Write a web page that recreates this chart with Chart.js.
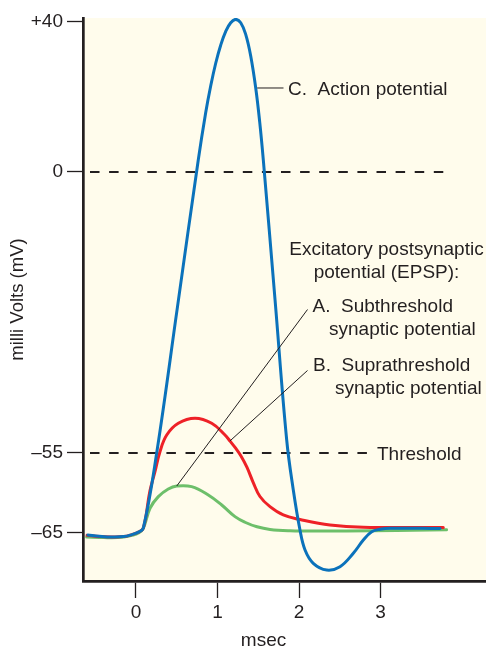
<!DOCTYPE html>
<html>
<head>
<meta charset="utf-8">
<title>Postsynaptic potentials and the action potential</title>
<script src="https://cdn.jsdelivr.net/npm/chart.js@4/dist/chart.umd.min.js"></script>
<style>
  html, body { margin: 0; padding: 0; background: #ffffff; }
  canvas { display: block; }
</style>
</head>
<body>
<canvas id="chart" width="486" height="646"></canvas>
<script>
// ---- traces: time (msec) and membrane potential (mV) ----
// C. action potential
const actionT  = [-0.59, -0.45, -0.3, -0.15, -0.05, 0.03, 0.09, 0.254, 0.509, 0.764, 0.855, 0.917, 0.978, 1.039, 1.101, 1.162, 1.223, 1.285, 1.346, 1.407, 1.469, 1.518, 1.562, 1.706, 1.849, 1.93, 2.012, 2.074, 2.175, 2.34, 2.503, 2.666, 2.789, 2.892, 2.994, 3.117, 3.73];
const actionMv = [-65.25, -65.4, -65.5, -65.45, -65.2, -64.9, -64.4, -55, -26.4, 3.2, 15.8, 23.0, 29.0, 33.8, 37.5, 39.8, 40.7, 39.8, 36.7, 31.0, 22.4, 13.3, 3.2, -25.05, -52.46, -59.63, -64.63, -67.13, -68.79, -69.63, -69.21, -67.54, -65.88, -64.84, -64.54, -64.41, -64.45];

// B. suprathreshold synaptic potential
const supraT  = [-0.6, -0.45, -0.3, -0.15, -0.05, 0.03, 0.09, 0.17, 0.233, 0.294, 0.377, 0.519, 0.724, 0.929, 1.092, 1.153, 1.215, 1.288, 1.362, 1.436, 1.521, 1.644, 1.807, 2.012, 2.38, 2.79, 3.77];
const supraMv = [-65.3, -65.45, -65.5, -65.45, -65.2, -64.9, -64.4, -59.8, -57.34, -54.75, -51.48, -49.19, -48.2, -49.19, -51.48, -52.65, -53.92, -55.38, -56.81, -58.63, -60.44, -61.71, -62.75, -63.31, -64.0, -64.29, -64.3];

// A. subthreshold synaptic potential
const subT  = [-0.605, -0.45, -0.3, -0.15, -0.05, 0.03, 0.09, 0.172, 0.274, 0.396, 0.5, 0.683, 0.887, 1.052, 1.215, 1.337, 1.485, 1.644, 1.89, 2.135, 2.58, 3.81];
const subMv = [-65.5, -65.55, -65.6, -65.5, -65.3, -65.0, -64.41, -61.91, -60.46, -59.5, -59.13, -59.21, -60.25, -61.5, -62.96, -63.66, -64.23, -64.56, -64.73, -64.75, -64.75, -64.6];

// reference levels
const zeroLineT = [-0.564, 3.77];
const zeroLineMv = [0, 0];
const thresholdT = [-0.564, 2.86];
const thresholdMv = [-55, -55];

// axes
const xTicks = [0, 1, 2, 3];
const yTicks = [-65, -55, 0, 40];
const yTickLabels = ['\u201365', '\u201355', '0', '+40'];

const INK = '#231f20';
const FONT = '"Liberation Sans", Arial, Helvetica, sans-serif';

function pts(ts, vs) { return ts.map((t, i) => ({ x: t, y: vs[i] })); }

// ---- a millivolt axis that is stretched piecewise near rest / threshold ----
// knots: [value in mV, fraction of the axis height from the bottom]
const MV_KNOTS = [[-71, 0], [-65, 0.0853], [-55, 0.2274], [0, 0.7265], [40, 0.9929], [41.07, 1]];
function mvToDecimal(v) {
  let i = 1;
  while (i < MV_KNOTS.length - 1 && v > MV_KNOTS[i][0]) i++;
  const [v0, d0] = MV_KNOTS[i - 1], [v1, d1] = MV_KNOTS[i];
  return d0 + (v - v0) * (d1 - d0) / (v1 - v0);
}
function decimalToMv(d) {
  let i = 1;
  while (i < MV_KNOTS.length - 1 && d > MV_KNOTS[i][1]) i++;
  const [v0, d0] = MV_KNOTS[i - 1], [v1, d1] = MV_KNOTS[i];
  return v0 + (d - d0) * (v1 - v0) / (d1 - d0);
}
class MillivoltScale extends Chart.LinearScale {
  getPixelForValue(v) {
    return (v === null || v === undefined || isNaN(v)) ? NaN : this.getPixelForDecimal(mvToDecimal(v));
  }
  getValueForPixel(p) { return decimalToMv(this.getDecimalForPixel(p)); }
  buildTicks() { return yTicks.map(v => ({ value: v })); }
}
MillivoltScale.id = 'millivolt';
MillivoltScale.defaults = Chart.LinearScale.defaults;
Chart.register(MillivoltScale);

// ---- background, leader lines and labels ----
const notes = {
  id: 'notes',
  beforeDraw(chart) {
    const { ctx, chartArea: a } = chart;
    ctx.save();
    ctx.fillStyle = '#fffcec';
    ctx.fillRect(a.left, a.top, a.right - a.left, a.bottom - a.top);
    ctx.restore();
  },
  afterDatasetsDraw(chart) {
    const { ctx } = chart;
    const xs = chart.scales.x, ys = chart.scales.y;
    const px = (t, v) => [xs.getPixelForValue(t), ys.getPixelForValue(v)];

    ctx.save();
    ctx.strokeStyle = INK;
    ctx.lineWidth = 1;

    // C: leader from the falling phase of the spike
    const ci = actionT.indexOf(1.469);
    const [cx, cy] = px(actionT[ci], actionMv[ci]);
    ctx.beginPath(); ctx.moveTo(cx + 1.5, cy); ctx.lineTo(283.5, cy); ctx.stroke();

    // A: leader from the subthreshold peak
    const ai = subMv.indexOf(Math.max(...subMv));
    const [ax, ay] = px(subT[ai], subMv[ai]);
    ctx.beginPath(); ctx.moveTo(ax, ay); ctx.lineTo(307.5, 309.5); ctx.stroke();

    // B: leader from the decaying suprathreshold potential
    const bi = supraT.indexOf(1.153);
    const [bx, by] = px(supraT[bi], supraMv[bi]);
    ctx.beginPath(); ctx.moveTo(bx, by); ctx.lineTo(307.5, 370.5); ctx.stroke();

    ctx.fillStyle = INK;
    ctx.font = '19px ' + FONT;
    ctx.textBaseline = 'alphabetic';
    ctx.textAlign = 'left';
    ctx.fillText('C.  Action potential', 288, cy + 7.5);
    ctx.textAlign = 'center';
    ctx.fillText('Excitatory postsynaptic', 386.5, 254.5);
    ctx.fillText('potential (EPSP):', 386.5, 277.5);
    ctx.textAlign = 'left';
    ctx.fillText('A.  Subthreshold', 312.5, 311.5);
    ctx.fillText('synaptic potential', 329, 334.5);
    ctx.fillText('B.  Suprathreshold', 313, 370.5);
    ctx.fillText('synaptic potential', 335, 393.5);
    const thY = ys.getPixelForValue(-55);
    ctx.fillText('Threshold', 377, thY + 6.8);
    ctx.restore();
  },
  afterDraw(chart) {
    const { ctx } = chart;
    ctx.save();
    ctx.fillStyle = INK;
    ctx.font = '19px ' + FONT;
    ctx.textAlign = 'center';
    ctx.textBaseline = 'alphabetic';
    ctx.fillText('msec', 263.5, 645.5);
    ctx.restore();
  }
};

const trace = (data, color) => ({
  data, borderColor: color, borderWidth: 3, pointRadius: 0,
  tension: 0.4, fill: false, borderJoinStyle: 'round', borderCapStyle: 'round'
});
const dashed = (data) => ({
  data, borderColor: INK, borderWidth: 2, borderDash: [9.5, 9.6], pointRadius: 0, fill: false
});

new Chart(document.getElementById('chart'), {
  type: 'line',
  data: {
    datasets: [
      trace(pts(actionT, actionMv), '#0b72bb'),
      trace(pts(supraT, supraMv), '#ee2127'),
      trace(pts(subT, subMv), '#6dbf6a'),
      dashed(pts(zeroLineT, zeroLineMv)),
      dashed(pts(thresholdT, thresholdMv))
    ]
  },
  options: {
    responsive: false,
    animation: false,
    devicePixelRatio: 1,
    layout: { padding: { top: 18, right: 0, bottom: 0, left: 0 } },
    plugins: { legend: { display: false }, tooltip: { enabled: false } },
    scales: {
      x: {
        type: 'linear', min: -0.65, max: 4.294, bounds: 'data',
        afterBuildTicks(s) { s.ticks = xTicks.map(v => ({ value: v })); },
        afterFit(s) { s.height = 65; },
        grid: { drawOnChartArea: false, drawTicks: true, tickLength: 17, tickColor: INK, tickWidth: 1.3 },
        border: { display: true, color: INK, width: 2.7 },
        ticks: { autoSkip: false, maxRotation: 0, padding: 3, color: INK,
                 font: { family: FONT, size: 19 }, callback: v => String(v) }
      },
      y: {
        type: 'millivolt', min: -71, max: 41.07, bounds: 'data',
        afterFit(s) { s.width = 83; },
        grid: { drawOnChartArea: false, drawTicks: true, tickLength: 16, tickColor: INK, tickWidth: 1.3 },
        border: { display: true, color: INK, width: 2.7 },
        ticks: { autoSkip: false, padding: 4, color: INK,
                 font: { family: FONT, size: 19 },
                 callback: v => yTickLabels[yTicks.indexOf(v)] },
        title: { display: true, text: 'milli Volts (mV)', color: INK,
                 font: { family: FONT, size: 18.5 }, padding: { top: 7, bottom: 0 } }
      }
    }
  },
  plugins: [notes]
});
</script>
</body>
</html>
